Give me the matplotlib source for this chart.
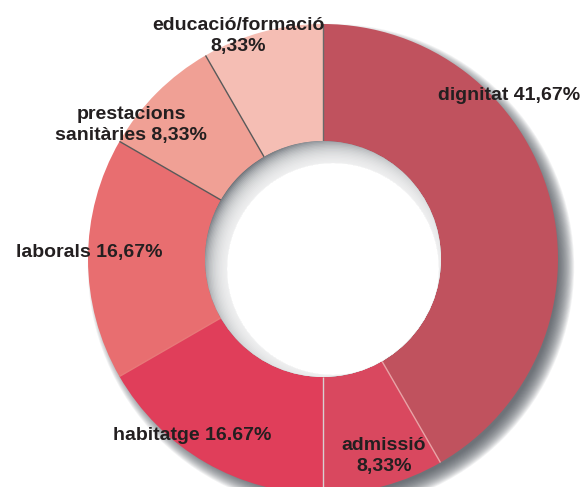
import numpy as np
import matplotlib.pyplot as plt
from matplotlib.patches import Circle, Rectangle

# slices, clockwise from the top
labels = ['dignitat 41,67%', 'admissió\n8,33%', 'habitatge 16.67%',
          'laborals 16,67%', 'prestacions\nsanitàries 8,33%', 'educació/formació\n8,33%']
values = [41.67, 8.33, 16.67, 16.67, 8.33, 8.33]
colors = ['#c0525e', '#d9485f', '#e03e5a', '#e86e70', '#f0a095', '#f5beb4']
# line drawn on the boundary that ends each slice
edge_colors = ['#e9a3a6', '#d8d0d0', '#e97878', '#5a5a5a', '#5a5a5a', '#6a6a6a']
# label centres in pixels, measured from the top
label_pos = [(509, 95), (384, 456), (192, 435), (89, 253), (131, 125), (238, 36)]

W, H = 587, 487
cx, cy = 323, H - 259
R, r = 235, 118

fig = plt.figure(figsize=(W / 100, H / 100), dpi=100)
ax = fig.add_axes([0, 0, 1, 1])

# soft drop shadow behind the ring, towards the lower right
n = 20
for k in range(n):
    ax.add_patch(Circle((cx + 8, cy - 8), R - 8 + k * 0.85, fc='#4a5058',
                        ec='none', alpha=0.07, zorder=1))

ax.pie(values, colors=colors, startangle=90, counterclock=False,
       radius=R, center=(cx, cy), frame=True,
       wedgeprops=dict(width=R - r, edgecolor='none', zorder=2))
ax.set_xlim(0, W)
ax.set_ylim(0, H)
ax.set_aspect('equal')
ax.axis('off')

# thin lines between slices
cum = np.cumsum(values) / np.sum(values)
for frac, ec in zip(cum, edge_colors):
    th = np.deg2rad(90 - 360 * frac)
    ax.plot([cx + r * np.cos(th), cx + R * np.cos(th)],
            [cy + r * np.sin(th), cy + R * np.sin(th)],
            color=ec, lw=1.0, zorder=3, solid_capstyle='butt')

# hole with an inner shadow on its upper left side
clip = Circle((cx, cy), r, transform=ax.transData)
base = Circle((cx, cy), r, fc='#5c6269', ec='none', zorder=4)
ax.add_patch(base)
base.set_clip_path(clip)
off = 10
core = Circle((cx + off, cy - off), r - 12, fc='white', ec='none', zorder=5)
ax.add_patch(core)
core.set_clip_path(clip)
m = 20
for k in range(m):
    c = Circle((cx + off, cy - off), r - 12 + k * 1.4, fc='white', ec='none',
               alpha=0.12, zorder=5)
    ax.add_patch(c)
    c.set_clip_path(clip)

# white box over the lower right corner
ax.add_patch(Rectangle((475, 0), W - 475, H - 472, fc='white', ec='none', zorder=6))

for txt, (x, y) in zip(labels, label_pos):
    ax.text(x, H - y, txt, ha='center', va='center', multialignment='center',
            fontsize=14, fontweight='bold', family='Liberation Sans',
            color='#231f20', linespacing=1.25, zorder=10)

fig.savefig('out.png', dpi=100)
